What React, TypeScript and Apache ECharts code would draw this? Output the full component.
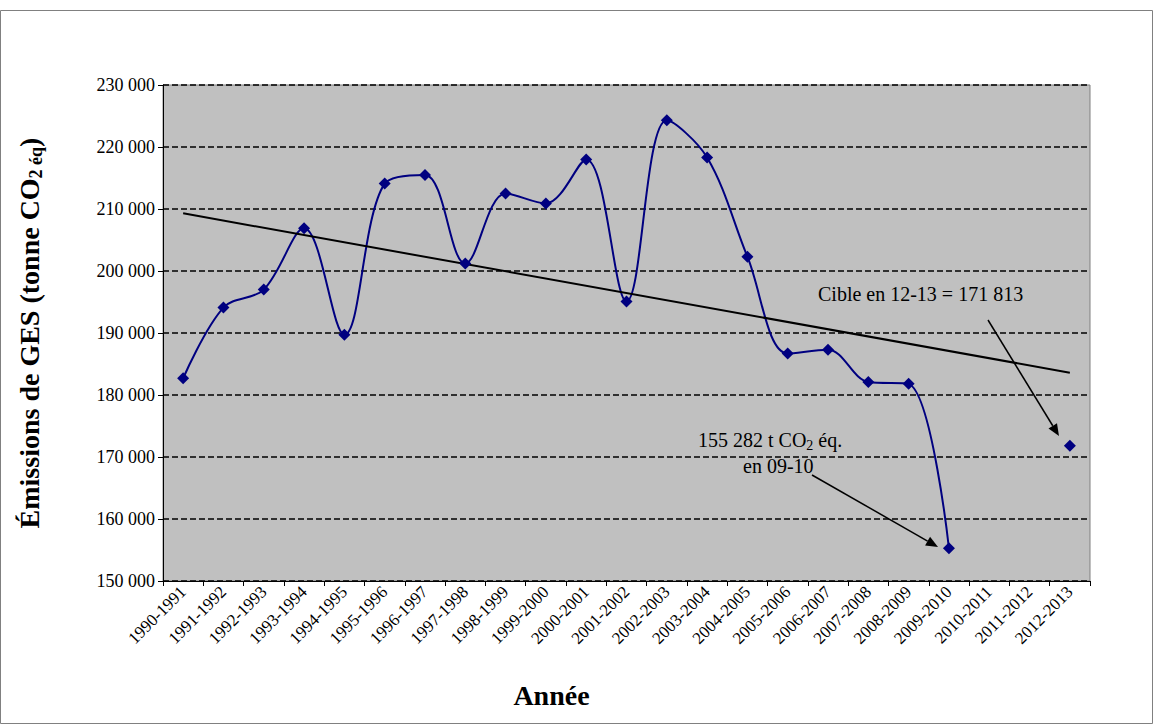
import React, { useEffect, useRef } from 'react';
import * as echarts from 'echarts';

const years = [
  '1990-1991', '1991-1992', '1992-1993', '1993-1994', '1994-1995', '1995-1996',
  '1996-1997', '1997-1998', '1998-1999', '1999-2000', '2000-2001', '2001-2002',
  '2002-2003', '2003-2004', '2004-2005', '2005-2006', '2006-2007', '2007-2008',
  '2008-2009', '2009-2010', '2010-2011', '2011-2012', '2012-2013',
];
const emissions = [
  182700, 194100, 197000, 206900, 189700, 214100, 215500, 201200, 212500, 210900,
  218000, 195100, 224300, 218300, 202300, 186700, 187300, 182100, 181800, 155282,
  null, null, null,
];
const target = [null, null, null, null, null, null, null, null, null, null, null, null,
  null, null, null, null, null, null, null, null, null, null, 171813];
const trend = [[0, 209300], [22, 183600]];

const font = 'Liberation Serif, serif';
const fmt = (v: number) => String(v).replace(/\B(?=(\d{3})+(?!\d))/g, ' ');

const arrow = (x1: number, y1: number, x2: number, y2: number) => {
  const a = Math.atan2(y2 - y1, x2 - x1);
  const L = 12, W = 5;
  const bx = x2 - L * Math.cos(a), by = y2 - L * Math.sin(a);
  return [
    { type: 'line', shape: { x1, y1, x2: bx, y2: by }, style: { stroke: '#000', lineWidth: 1.5 } },
    {
      type: 'polygon',
      shape: { points: [[x2, y2], [bx - W * Math.sin(a), by + W * Math.cos(a)], [bx + W * Math.sin(a), by - W * Math.cos(a)]] },
      style: { fill: '#000' },
    },
  ];
};

const App: React.FC = () => {
  const ref = useRef<HTMLDivElement>(null);

  useEffect(() => {
    document.body.style.margin = '0';
    if (!ref.current) return;
    const chart = echarts.init(ref.current, null, { renderer: 'svg' });
    chart.setOption({
      animation: false,
      backgroundColor: '#fff',
      textStyle: { fontFamily: font },
      grid: { left: 163, right: 64, top: 85, bottom: 144, show: true, backgroundColor: '#c0c0c0', borderColor: '#808080', borderWidth: 1 },
      xAxis: {
        type: 'category',
        data: years,
        boundaryGap: true,
        axisLine: { lineStyle: { color: '#000' } },
        axisTick: { show: true, lineStyle: { color: '#000' } },
        axisLabel: { rotate: 45, color: '#000', fontFamily: font, fontSize: 17, interval: 0, margin: 8 },
        name: 'Année',
        nameLocation: 'middle',
        nameGap: 100,
        nameTextStyle: { fontFamily: font, fontSize: 28, fontWeight: 'bold', color: '#000', padding: [0, 150, 0, 0] },
      },
      yAxis: {
        type: 'value',
        min: 150000,
        max: 230000,
        interval: 10000,
        axisLine: { show: true, lineStyle: { color: '#000' } },
        axisTick: { show: true, lineStyle: { color: '#000' } },
        axisLabel: { color: '#000', fontFamily: font, fontSize: 18, formatter: fmt },
        splitLine: { lineStyle: { color: '#000', type: [6, 3], width: 1.5 } },
        name: '{a|Émissions de GES (tonne CO}{s|2 éq}{a|)}',
        nameLocation: 'middle',
        nameGap: 118,
        nameTextStyle: {
          rich: {
            a: { fontFamily: font, fontSize: 28, fontWeight: 'bold', color: '#000' },
            s: { fontFamily: font, fontSize: 18, fontWeight: 'bold', color: '#000', padding: [14, 0, 0, 0] },
          },
        },
      },
      series: [
        {
          type: 'line', data: emissions, smooth: 0.35, connectNulls: false,
          symbol: 'diamond', symbolSize: 12,
          lineStyle: { color: '#000080', width: 2 }, itemStyle: { color: '#000080' },
        },
        {
          type: 'line', data: target, symbol: 'diamond', symbolSize: 12,
          itemStyle: { color: '#000080' }, lineStyle: { width: 0 },
        },
        {
          type: 'line', data: trend, symbol: 'none',
          lineStyle: { color: '#000', width: 2 },
        },
      ],
      graphic: [
        { type: 'rect', shape: { x: 0.5, y: 10.5, width: 1152, height: 713 }, style: { fill: 'none', stroke: '#808080', lineWidth: 1 }, z: -10 },
        { type: 'text', x: 818, y: 284, style: { text: 'Cible en 12-13 = 171 813', font: `20px ${font}`, fill: '#000' } },
        {
          type: 'text', x: 698, y: 428,
          style: {
            text: '{a|155 282 t CO}{s|2}{a| éq.}', fill: '#000',
            rich: { a: { fontFamily: font, fontSize: 20 }, s: { fontFamily: font, fontSize: 14, padding: [10, 0, 0, 0] } },
          },
        },
        { type: 'text', x: 743, y: 456, style: { text: 'en 09-10', font: `20px ${font}`, fill: '#000' } },
        ...arrow(988, 320, 1059, 436),
        ...arrow(812, 475, 938, 547),
      ],
    });
    return () => chart.dispose();
  }, []);

  return <div ref={ref} style={{ width: 1154, height: 725 }} />;
};

export default App;
